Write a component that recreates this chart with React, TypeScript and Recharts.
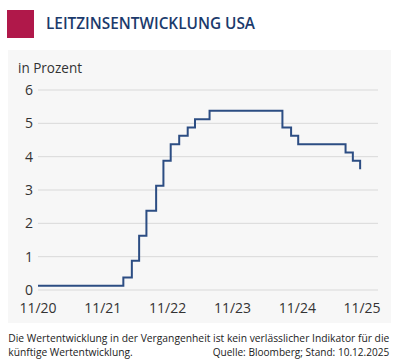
import React from 'react';
import { LineChart, Line, XAxis, YAxis, CartesianGrid } from 'recharts';

// Decision dates and midpoints of the US fed funds target range (in %)
const rateDates = [
  '2020-11-10', '2022-03-17', '2022-05-05', '2022-06-16', '2022-07-28', '2022-09-22',
  '2022-11-03', '2022-12-15', '2023-02-02', '2023-03-23', '2023-05-04', '2023-07-27',
  '2024-09-19', '2024-11-08', '2024-12-19', '2025-09-18', '2025-10-30', '2025-12-11',
];
const rateValues = [
  0.125, 0.375, 0.875, 1.625, 2.375, 3.125,
  3.875, 4.375, 4.625, 4.875, 5.125, 5.375,
  4.875, 4.625, 4.375, 4.125, 3.875, 3.625,
];

const xTickDates = ['2020-11-10', '2021-11-18', '2022-11-27', '2023-12-06', '2024-12-14', '2025-12-22'];
const xTickLabels = ['11/20', '11/21', '11/22', '11/23', '11/24', '11/25'];
const xDomainDates = ['2020-11-10', '2026-03-24'];
const yTicks = [0, 1, 2, 3, 4, 5, 6];

const data = rateDates.map((d, i) => ({ t: Date.parse(d), v: rateValues[i] }));
const xTicks = xTickDates.map((d) => Date.parse(d));
const labelFor = (t: number) => {
  const i = xTicks.indexOf(t);
  return i >= 0 ? xTickLabels[i] : '';
};

const FONT = '"Open Sans", sans-serif';

export default function App() {
  return (
    <div style={{ position: 'absolute', left: 0, top: 0, width: 400, height: 364, background: '#fff', fontFamily: FONT }}>
      <div style={{ position: 'absolute', left: 7.5, top: 50, width: 383.5, height: 273, background: '#f7f7f7' }} />
      <div style={{ position: 'absolute', left: 0, top: 0 }}>
        <LineChart width={400} height={364} data={data} margin={{ top: 90, right: 22, bottom: 44, left: 0 }}>
          <CartesianGrid horizontal vertical={false} stroke="#d9d9d9" strokeWidth={1} />
          <XAxis
            dataKey="t"
            type="number"
            domain={xDomainDates.map((d) => Date.parse(d))}
            ticks={xTicks}
            tickFormatter={labelFor}
            axisLine={false}
            tickLine={false}
            tickSize={11}
            tickMargin={2}
            height={30}
            interval={0}
            tick={{ fill: '#333', fontSize: 14, fontFamily: FONT }}
          />
          <YAxis
            type="number"
            domain={[0, 6]}
            ticks={yTicks}
            width={38}
            axisLine={false}
            tickLine={false}
            tickSize={3}
            tickMargin={2}
            interval={0}
            tick={{ fill: '#333', fontSize: 14, fontFamily: FONT }}
          />
          <Line
            type="stepAfter"
            dataKey="v"
            stroke="#2c4d83"
            strokeWidth={2}
            dot={false}
            activeDot={false}
            isAnimationActive={false}
          />
        </LineChart>
      </div>
      <svg width={400} height={364} style={{ position: 'absolute', left: 0, top: 0, pointerEvents: 'none' }}>
        <rect x={7} y={10} width={27} height={28} fill="#b0184a" />
        <text x={46} y={29.3} fontSize={16.5} fontWeight={600} fill="#1b3a6c" fontFamily={FONT} textLength={209} lengthAdjust="spacingAndGlyphs">
          LEITZINSENTWICKLUNG USA
        </text>
        <text x={18} y={72.5} fontSize={14} fill="#333" fontFamily={FONT} textLength={64} lengthAdjust="spacingAndGlyphs">
          in Prozent
        </text>
        <text x={8.3} y={341.7} fontSize={10.4} fill="#222" fontFamily={FONT} textLength={381} lengthAdjust="spacingAndGlyphs">
          Die Wertentwicklung in der Vergangenheit ist kein verlässlicher Indikator für die
        </text>
        <text x={8.3} y={355.5} fontSize={10.4} fill="#222" fontFamily={FONT} textLength={124.4} lengthAdjust="spacingAndGlyphs">
          künftige Wertentwicklung.
        </text>
        <text x={389.3} y={355.5} fontSize={10.4} fill="#222" fontFamily={FONT} textAnchor="end" textLength={176.6} lengthAdjust="spacingAndGlyphs">
          Quelle: Bloomberg; Stand: 10.12.2025
        </text>
      </svg>
    </div>
  );
}
